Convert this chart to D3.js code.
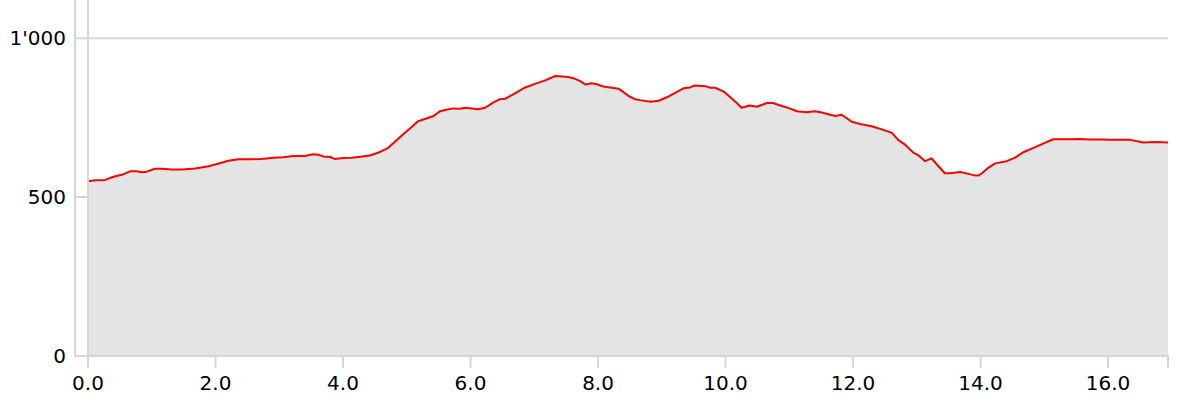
<!DOCTYPE html>
<html>
<head>
<meta charset="utf-8">
<script src="https://cdn.jsdelivr.net/npm/d3@7"></script>
<style>
  body { margin: 0; background: #fff; }
  text { font-family: "DejaVu Sans", sans-serif; }
</style>
</head>
<body>
<svg id="profile" width="1201" height="416"></svg>
<script>
// distance along the route in km
const distance = [
  0.00, 0.11, 0.27, 0.40, 0.53, 0.66, 0.76, 0.84, 0.92, 1.05, 1.16, 1.31, 1.47, 1.68, 1.89,
  2.04, 2.20, 2.36, 2.57, 2.72, 2.91, 3.06, 3.22, 3.40, 3.53, 3.61, 3.69, 3.80, 3.87, 4.00,
  4.14, 4.27, 4.42, 4.58, 4.71, 4.84, 4.97, 5.05, 5.18, 5.26, 5.42, 5.52, 5.60, 5.73, 5.84,
  5.91, 6.02, 6.12, 6.23, 6.36, 6.46, 6.54, 6.67, 6.85, 7.01, 7.17, 7.33, 7.53, 7.64, 7.72,
  7.80, 7.90, 7.98, 8.08, 8.19, 8.32, 8.40, 8.48, 8.58, 8.66, 8.82, 8.95, 9.08, 9.23, 9.34,
  9.44, 9.52, 9.68, 9.76, 9.84, 9.97, 10.07, 10.18, 10.25, 10.38, 10.49, 10.65, 10.75, 10.80,
  10.96, 11.12, 11.27, 11.40, 11.51, 11.64, 11.72, 11.82, 11.98, 12.11, 12.29, 12.45, 12.61,
  12.71, 12.82, 12.95, 13.02, 13.13, 13.23, 13.34, 13.44, 13.52, 13.68, 13.81, 13.89, 13.97,
  14.02, 14.12, 14.23, 14.41, 14.54, 14.67, 14.83, 14.99, 15.14, 15.35, 15.56, 15.72, 15.87,
  16.03, 16.19, 16.35, 16.55, 16.76, 16.94
];

// elevation in m
const elevation = [
  550, 553, 554, 564, 570, 581, 581, 578, 580, 589, 589, 587, 587, 590, 597,
  605, 614, 619, 619, 620, 624, 625, 629, 629, 635, 633, 628, 626, 620, 623,
  624, 627, 631, 642, 655, 679, 702, 716, 739, 744, 755, 770, 774, 779, 778,
  781, 779, 776, 781, 798, 808, 809, 823, 844, 856, 867, 881, 878, 872, 865,
  854, 858, 855, 848, 845, 841, 830, 818, 808, 805, 800, 803, 814, 830, 842,
  845, 851, 849, 844, 844, 832, 815, 795, 781, 788, 784, 796, 796, 792,
  782, 770, 767, 770, 766, 759, 755, 759, 737, 730, 723, 713, 702,
  679, 664, 639, 632, 613, 622, 597, 575, 575, 579, 573, 569, 568,
  575, 592, 606, 613, 624, 641, 655, 669, 682, 682, 683, 681, 681,
  680, 680, 680, 672, 673, 672
];

const xTicks = [0, 2, 4, 6, 8, 10, 12, 14, 16];
const yTicks = [0, 500, 1000];

const points = distance.map((d, i) => ({ d, e: elevation[i] }));
const maxDist = d3.max(distance);

const left = 88, right = 1168, bottom = 356, axisX = 75;
const gridColor = "#d6d6d6";

const x = d3.scaleLinear().domain([0, maxDist]).range([left, right]);
const y = d3.scaleLinear().domain([0, 1120]).range([bottom, 0]);

const fmtY = d3.formatLocale({ decimal: ".", thousands: "'", grouping: [3], currency: ["", ""] }).format(",d");
const fmtX = d3.format(".1f");

const svg = d3.select("#profile");

// horizontal grid lines
svg.append("g")
  .selectAll("line")
  .data(yTicks.filter(t => t > 0))
  .join("line")
  .attr("x1", axisX)
  .attr("x2", right)
  .attr("y1", d => y(d))
  .attr("y2", d => y(d))
  .attr("stroke", gridColor)
  .attr("stroke-width", 2);

// area + line
svg.append("path")
  .datum(points)
  .attr("fill", "#e4e4e4")
  .attr("d", d3.area().x(p => x(p.d)).y0(bottom).y1(p => y(p.e)));

svg.append("path")
  .datum(points)
  .attr("fill", "none")
  .attr("stroke", "#ff0000")
  .attr("stroke-width", 2)
  .attr("stroke-linejoin", "round")
  .attr("d", d3.line().x(p => x(p.d)).y(p => y(p.e)));

// left axis line
svg.append("line")
  .attr("x1", axisX).attr("x2", axisX)
  .attr("y1", 0).attr("y2", bottom + 1)
  .attr("stroke", gridColor)
  .attr("stroke-width", 2);

// vertical line at distance 0
svg.append("line")
  .attr("x1", x(0)).attr("x2", x(0))
  .attr("y1", 0).attr("y2", bottom + 12)
  .attr("stroke", gridColor)
  .attr("stroke-width", 2);

// bottom axis
const xAxis = svg.append("g");
xAxis.append("line")
  .attr("x1", axisX).attr("x2", right + 1)
  .attr("y1", bottom).attr("y2", bottom)
  .attr("stroke", gridColor)
  .attr("stroke-width", 2);

xAxis.selectAll(".tick")
  .data(xTicks.concat([maxDist]))
  .join("line")
  .attr("x1", d => x(d)).attr("x2", d => x(d))
  .attr("y1", bottom).attr("y2", bottom + 12)
  .attr("stroke", gridColor)
  .attr("stroke-width", 2);

xAxis.selectAll("text")
  .data(xTicks)
  .join("text")
  .attr("x", d => x(d))
  .attr("y", 390)
  .attr("text-anchor", "middle")
  .attr("fill", "#000")
  .style("font-size", "20px")
  .text(fmtX);

// y labels
svg.append("g")
  .selectAll("text")
  .data(yTicks)
  .join("text")
  .attr("x", 66)
  .attr("y", d => y(d))
  .attr("dy", "0.36em")
  .attr("text-anchor", "end")
  .attr("fill", "#000")
  .style("font-size", "20px")
  .text(fmtY);
</script>
</body>
</html>
